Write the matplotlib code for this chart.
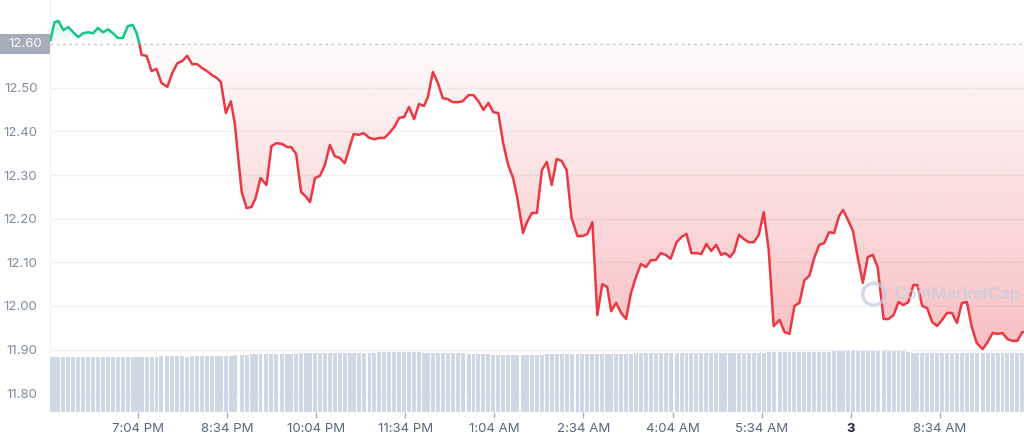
import numpy as np
import matplotlib
matplotlib.use('Agg')
import matplotlib.pyplot as plt
from matplotlib.colors import to_rgb
from matplotlib.patches import Rectangle
from matplotlib.path import Path
import matplotlib.transforms as mtransforms

plt.rcParams['font.family'] = ['Inter', 'DejaVu Sans']

# minutes relative to 7:04 PM
price_t = [-88, -84, -80, -75, -70, -65, -60, -55, -50, -45,
           -40, -35, -30, -25, -20, -15, -10, -5, -1, 2,
           4, 9, 14, 19, 24, 30, 35, 40, 45, 50,
           55, 60, 65, 70, 75, 80, 84, 89, 94, 98,
           105, 110, 115, 119, 124, 130, 135, 140, 146, 151,
           155, 160, 165, 170, 174, 179, 184, 189, 194, 199,
           204, 209, 214, 218, 223, 228, 234, 239, 244, 249,
           254, 259, 264, 269, 274, 279, 284, 289, 293, 298,
           303, 308, 313, 318, 323, 328, 334, 339, 344, 349,
           354, 359, 364, 369, 374, 379, 383, 389, 393, 398,
           403, 408, 413, 418, 423, 428, 433, 438, 444, 449,
           454, 459, 464, 469, 474, 478, 483, 488, 493, 498,
           503, 508, 513, 518, 523, 528, 533, 538, 544, 549,
           554, 559, 564, 569, 574, 579, 584, 589, 593, 598,
           602, 607, 612, 617, 622, 627, 632, 637, 642, 648,
           653, 658, 663, 668, 673, 678, 683, 688, 693, 698,
           703, 708, 712, 717, 722, 727, 732, 737, 742, 747,
           753, 758, 763, 768, 773, 778, 783, 787, 792, 797,
           802, 807, 812, 817, 822, 827, 832, 837, 842, 847,
           853, 858, 863, 868, 873, 878, 883, 888, 893, 895]

price = [12.609, 12.650, 12.653, 12.632, 12.639, 12.627, 12.616, 12.625, 12.627, 12.625,
         12.637, 12.627, 12.634, 12.625, 12.614, 12.614, 12.641, 12.644, 12.625, 12.598,
         12.575, 12.573, 12.538, 12.543, 12.511, 12.502, 12.534, 12.556, 12.561, 12.573,
         12.554, 12.554, 12.545, 12.538, 12.529, 12.522, 12.513, 12.442, 12.469, 12.419,
         12.261, 12.224, 12.227, 12.247, 12.293, 12.277, 12.366, 12.373, 12.371, 12.364,
         12.364, 12.348, 12.261, 12.250, 12.238, 12.293, 12.298, 12.323, 12.369, 12.343,
         12.339, 12.327, 12.364, 12.394, 12.392, 12.396, 12.385, 12.382, 12.385, 12.385,
         12.396, 12.410, 12.431, 12.433, 12.456, 12.428, 12.463, 12.458, 12.479, 12.536,
         12.511, 12.476, 12.474, 12.467, 12.467, 12.469, 12.483, 12.483, 12.469, 12.449,
         12.465, 12.444, 12.442, 12.373, 12.323, 12.293, 12.250, 12.167, 12.192, 12.213,
         12.213, 12.311, 12.330, 12.277, 12.337, 12.332, 12.311, 12.201, 12.160, 12.160,
         12.165, 12.192, 11.979, 12.050, 12.043, 11.988, 12.007, 11.984, 11.970, 12.030,
         12.066, 12.096, 12.089, 12.105, 12.105, 12.121, 12.117, 12.108, 12.146, 12.158,
         12.165, 12.121, 12.121, 12.119, 12.142, 12.126, 12.140, 12.117, 12.121, 12.112,
         12.124, 12.163, 12.153, 12.146, 12.146, 12.163, 12.215, 12.128, 11.954, 11.968,
         11.940, 11.936, 12.000, 12.007, 12.059, 12.069, 12.110, 12.140, 12.144, 12.169,
         12.167, 12.206, 12.220, 12.197, 12.172, 12.110, 12.053, 12.112, 12.117, 12.089,
         11.970, 11.970, 11.979, 12.009, 12.002, 12.009, 12.048, 12.048, 12.000, 11.995,
         11.963, 11.954, 11.968, 11.984, 11.984, 11.961, 12.007, 12.009, 11.952, 11.915,
         11.901, 11.917, 11.938, 11.936, 11.938, 11.924, 11.920, 11.920, 11.940, 11.940]

volume = [550, 550, 550, 550, 550, 550, 550, 550, 550, 550,
          550, 550, 550, 550, 550, 550, 550, 550, 550, 550,
          552, 552, 555, 555, 556, 556, 556, 556, 556, 555,
          556, 556, 556, 556, 556, 556, 556, 560, 565, 570,
          572, 574, 576, 580, 582, 584, 585, 585, 585, 585,
          585, 585, 586, 586, 586, 588, 592, 595, 595, 595,
          595, 595, 595, 595, 595, 595, 595, 595, 596, 596,
          596, 597, 597, 598, 598, 598, 597, 594, 590, 590,
          590, 590, 590, 590, 588, 586, 584, 582, 580, 578,
          576, 574, 572, 570, 568, 566, 566, 566, 567, 568,
          570, 575, 577, 577, 577, 577, 577, 577, 579, 580,
          580, 580, 580, 580, 580, 580, 582, 582, 582, 585,
          587, 587, 587, 587, 587, 587, 587, 587, 587, 587,
          587, 587, 587, 587, 587, 587, 587, 587, 587, 587,
          587, 587, 587, 587, 587, 590, 595, 597, 597, 597,
          597, 598, 597, 597, 597, 597, 597, 600, 603, 605,
          607, 607, 607, 607, 607, 607, 607, 607, 607, 607,
          607, 607, 607, 607, 607, 600, 594, 593, 593, 593,
          593, 593, 593, 593, 593, 593, 593, 593, 593, 593,
          593, 593, 593, 593, 593, 593, 593, 593, 593, 593]

tick_pos = [0, 90, 180, 270, 360, 450, 540, 630, 720, 810]
tick_labels = ['7:04 PM', '8:34 PM', '10:04 PM', '11:34 PM', '1:04 AM',
               '2:34 AM', '4:04 AM', '5:34 AM', '3', '8:34 AM']
y_ticks = [11.80, 11.90, 12.00, 12.10, 12.20, 12.30, 12.40, 12.50]
baseline = 12.60

GREEN = '#16c784'
RED = '#ea3943'
XMIN, XMAX = -88.5, 894.7
YMIN, YMAX = 11.757, 12.701

t = np.array(price_t, dtype=float)
v = np.array(price)

fig = plt.figure(figsize=(10.24, 4.41), dpi=100)
pos = [50 / 1024, 29 / 441, 974 / 1024, 412 / 441]
ax = fig.add_axes(pos)
ax_vol = fig.add_axes(pos, facecolor='none')

# grid
for y in y_ticks:
    ax.axhline(y, color='#eff2f5', lw=1, zorder=0)
ax.axhline(baseline, color='#b9c0cc', lw=0.9, ls=(0, (2, 3)), zorder=1)


def gradient_fill(where, color, y_lo, y_hi, a_top, a_bot):
    poly = ax.fill_between(t, v, baseline, where=where, interpolate=True,
                           facecolor='none', lw=0)
    rgba = np.zeros((256, 1, 4))
    rgba[..., :3] = to_rgb(color)
    rgba[:, 0, 3] = np.linspace(a_top, a_bot, 256)
    im = ax.imshow(rgba, extent=[XMIN, XMAX, y_lo, y_hi], aspect='auto',
                   origin='upper', zorder=1, interpolation='bilinear')
    path = Path.make_compound_path(*poly.get_paths())
    im.set_clip_path(path, transform=ax.transData)


gradient_fill(v <= baseline, RED, 11.88, baseline, 0.02, 0.33)
gradient_fill(v >= baseline, GREEN, baseline, 12.66, 0.2, 0.0)

# price line, coloured above / below the opening price
up, = ax.plot(t, v, color=GREEN, lw=1.8, zorder=3, solid_joinstyle='round')
up.set_clip_path(Rectangle((XMIN, baseline), XMAX - XMIN, 1, transform=ax.transData))
down, = ax.plot(t, v, color=RED, lw=1.8, zorder=3, solid_joinstyle='round')
down.set_clip_path(Rectangle((XMIN, baseline - 2), XMAX - XMIN, 2, transform=ax.transData))

ax.set_xlim(XMIN, XMAX)
ax.set_ylim(YMIN, YMAX)

# volume bars
ax_vol.bar(t, volume, width=4.0, color='#cfd6e4', lw=0)
ax_vol.set_xlim(XMIN, XMAX)
ax_vol.set_ylim(0, 4120)
ax_vol.axis('off')

# axes styling
for s in ['top', 'right', 'bottom']:
    ax.spines[s].set_visible(False)
ax.spines['left'].set_color('#eff2f5')
ax.set_yticks(y_ticks)
ax.set_yticklabels(['%.2f' % y for y in y_ticks])
ax.tick_params(axis='y', length=0, pad=9, labelsize=9.5, labelcolor='#808a9d')
ax.set_xticks(tick_pos)
ax.set_xticklabels(tick_labels)
ax.tick_params(axis='x', length=4, width=1, color='#a6b0c3', pad=4,
               labelsize=9.5, labelcolor='#58667e')
for lbl in ax.get_xticklabels():
    if lbl.get_text() == '3':
        lbl.set_fontweight('bold')
        lbl.set_color('#222531')

# opening price tag on the left
blend = mtransforms.blended_transform_factory(fig.transFigure, ax.transData)
tag = Rectangle((0, baseline - 0.023), 50 / 1024, 0.046, transform=blend,
                facecolor='#a6acb9', edgecolor='none', clip_on=False, zorder=5)
ax.add_patch(tag)
ax.text(25 / 1024, baseline, '12.60', transform=blend, color='white',
        fontsize=9.5, ha='center', va='center', zorder=6, clip_on=False)

# watermark
ax.scatter([743], [12.027], s=250, facecolors='none', edgecolors='#c3cde0',
           linewidths=2.5, alpha=0.75, zorder=4)
ax.text(764, 12.027, 'CoinMarketCap', color='#c3cde0', alpha=0.75,
        fontsize=12, fontweight='semibold', ha='left', va='center', zorder=4)

fig.savefig('out.png', dpi=100)
